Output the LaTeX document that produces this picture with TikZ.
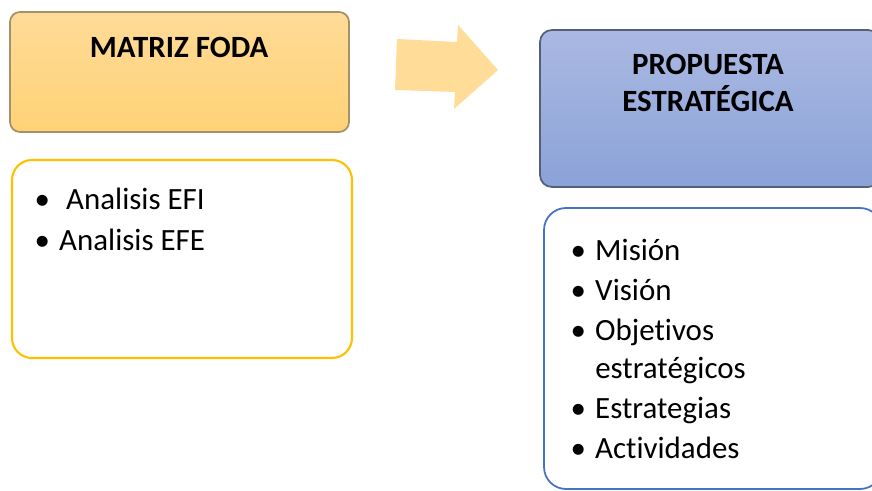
\documentclass[tikz,border=0pt]{standalone}
\usepackage{fontspec}
\setmainfont[Ligatures=NoCommon]{Carlito}
\usetikzlibrary{positioning}

\definecolor{fodaArriba}{RGB}{255,219,152}
\definecolor{fodaAbajo}{RGB}{255,210,118}
\definecolor{fodaBorde}{RGB}{165,145,105}
\definecolor{fodaLista}{RGB}{255,192,0}
\definecolor{propArriba}{RGB}{170,185,226}
\definecolor{propAbajo}{RGB}{139,162,216}
\definecolor{propBorde}{RGB}{85,95,120}
\definecolor{propLista}{RGB}{68,114,196}
\definecolor{flecha}{RGB}{255,216,140}

\begin{document}
\begin{tikzpicture}[
	titulo/.style={align=center, inner sep=0pt, font=\fontsize{8.8}{10.3}\selectfont\bfseries},
	lista/.style={anchor=base west, inner sep=0pt, font=\fontsize{8.8}{11.4}\selectfont},
	cajafoda/.style={rounded corners=0.10cm, draw=fodaBorde, line width=0.5pt, top color=fodaArriba, bottom color=fodaAbajo},
	cajaprop/.style={rounded corners=0.12cm, draw=propBorde, line width=0.5pt, top color=propArriba, bottom color=propAbajo}
]

\useasboundingbox (0,0) rectangle (8.72,-4.91);
\clip (0,0) rectangle (8.72,-4.91);

% Matriz FODA
\node[cajafoda, minimum width=3.39cm, minimum height=1.20cm] (foda) at (1.795,-0.72) {};
\node[titulo] (fodatit) at (1.79,-0.475) {MATRIZ FODA};

\draw[fodaLista, line width=0.6pt, rounded corners=0.20cm, fill=white] (0.12,-1.60) rectangle (3.52,-3.58);
\node[lista] (fodalis) at (0.34,-2.09) {%
	\begin{tabular}[t]{@{}l@{\hspace{2.6pt}}l@{}}
		• & \ Analisis EFI\\[0.3pt]
		• & Analisis EFE
	\end{tabular}};

% Flecha
\fill[flecha, opacity=0.9] (3.97,-0.39) -- (4.57,-0.42) -- (4.58,-0.25) -- (4.98,-0.70)
	-- (4.54,-1.09) -- (4.55,-0.92) -- (3.95,-0.90) -- cycle;

% Propuesta estrategica
\node[cajaprop, minimum width=3.40cm, minimum height=1.57cm] (prop) at (7.10,-1.085) {};
\node[titulo] (proptit) at (7.08,-0.83) {PROPUESTA\\ESTRATÉGICA};

\draw[propLista, line width=0.5pt, rounded corners=0.22cm, fill=white] (5.44,-2.08) rectangle (8.82,-4.89);
\node[lista] (proplis) at (5.70,-2.60) {%
	\begin{tabular}[t]{@{}l@{\hspace{2.6pt}}l@{}}
		• & Misión\\
		• & Visión\\
		• & Objetivos\\[-0.6pt]
		  & estratégicos\\
		• & Estrategias\\
		• & Actividades
	\end{tabular}};

\end{tikzpicture}
\end{document}
